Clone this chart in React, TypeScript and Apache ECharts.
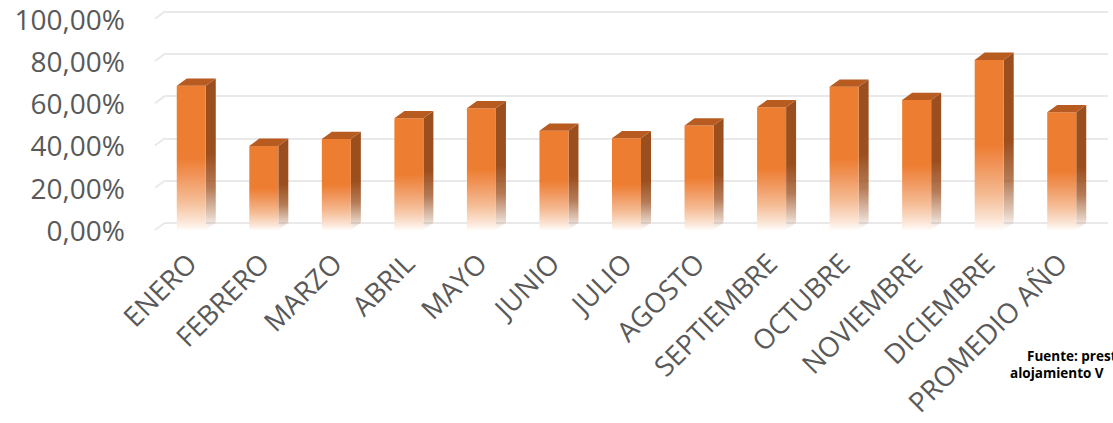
import React, { useEffect, useRef } from "react";
import * as echarts from "echarts";

const categories = [
  "ENERO",
  "FEBRERO",
  "MARZO",
  "ABRIL",
  "MAYO",
  "JUNIO",
  "JULIO",
  "AGOSTO",
  "SEPTIEMBRE",
  "OCTUBRE",
  "NOVIEMBRE",
  "DICIEMBRE",
  "PROMEDIO AÑO",
];
const occupancy = [68.3, 39.8, 43.1, 52.9, 57.6, 47.0, 43.4, 49.4, 58.1, 67.8, 61.5, 80.5, 55.7];
const yTicks = [0, 20, 40, 60, 80, 100];
const sourceLines = ["Fuente: prest", "alojamiento V"];

const DEPTH_X = 10;
const DEPTH_Y = -7.3;
const GRID_COLOR = "#e9e9e9";
const LABEL_COLOR = "#595959";
const FONT = "Open Sans";

export default function App() {
  const ref = useRef<HTMLDivElement>(null);

  useEffect(() => {
    if (!ref.current) return;
    const chart = echarts.init(ref.current, undefined, { renderer: "svg" });

    const frontGrad = new echarts.graphic.LinearGradient(0, 0, 0, 1, [
      { offset: 0, color: "#ED7D31" },
      { offset: 0.5, color: "#ED7D31" },
      { offset: 0.62, color: "#F09459" },
      { offset: 0.8, color: "#F5BD96" },
      { offset: 0.94, color: "#FBE5D6" },
      { offset: 1, color: "#FFFBF8" },
    ]);
    const sideGrad = new echarts.graphic.LinearGradient(0, 0, 0, 1, [
      { offset: 0, color: "#9C4F1E" },
      { offset: 0.5, color: "#9C4F1E" },
      { offset: 0.72, color: "rgba(156,79,30,0.75)" },
      { offset: 0.9, color: "rgba(156,79,30,0.3)" },
      { offset: 1, color: "rgba(156,79,30,0)" },
    ]);
    const topColor = "#B75B21";

    const option: any = {
      animation: false,
      backgroundColor: "#ffffff",
      grid: [
        { left: 155, right: 15, top: 18.7, bottom: 193 },
        { left: 165, right: 5, top: 11.7, bottom: 200.3 },
      ],
      xAxis: [
        {
          type: "category",
          gridIndex: 0,
          data: categories,
          axisLine: { show: false },
          axisTick: { show: false },
          axisLabel: {
            interval: 0,
            rotate: 45,
            margin: 28,
            color: LABEL_COLOR,
            fontFamily: FONT,
            fontSize: 27.5,
          },
        },
        {
          type: "category",
          gridIndex: 1,
          data: categories,
          show: false,
        },
      ],
      yAxis: [
        {
          type: "value",
          gridIndex: 0,
          min: 0,
          max: 100,
          interval: 20,
          axisLine: { show: false },
          axisTick: { show: false },
          splitLine: { show: false },
          axisLabel: {
            margin: 30,
            color: LABEL_COLOR,
            fontFamily: FONT,
            fontSize: 28,
            padding: [7, 0, 0, 0],
            formatter: (v: number) => v.toFixed(2).replace(".", ",") + "%",
          },
        },
        {
          type: "value",
          gridIndex: 1,
          min: 0,
          max: 100,
          interval: 20,
          axisLine: { show: false },
          axisTick: { show: false },
          axisLabel: { show: false },
          splitLine: { show: true, lineStyle: { color: GRID_COLOR, width: 2 } },
        },
      ],
      series: [
        {
          type: "custom",
          xAxisIndex: 0,
          yAxisIndex: 0,
          silent: true,
          data: yTicks.map((v) => [0, v]),
          renderItem: (params: any, api: any) => {
            const y = api.coord([0, api.value(1)])[1];
            const x = params.coordSys.x;
            return {
              type: "line",
              shape: { x1: x, y1: y, x2: x + DEPTH_X, y2: y + DEPTH_Y },
              style: { stroke: GRID_COLOR, lineWidth: 2 },
            };
          },
        },
        {
          type: "custom",
          xAxisIndex: 0,
          yAxisIndex: 0,
          data: occupancy.map((v, i) => [i, v]),
          encode: { x: 0, y: 1 },
          renderItem: (params: any, api: any) => {
            const i = api.value(0);
            const v = api.value(1);
            const top = api.coord([i, v]);
            const base = api.coord([i, 0]);
            const band = api.size([1, 0])[0];
            const w = band * 0.4;
            const x0 = top[0] - w / 2;
            const x1 = x0 + w;
            const ty = top[1];
            const by = base[1];
            return {
              type: "group",
              children: [
                {
                  type: "polygon",
                  shape: {
                    points: [
                      [x1, ty],
                      [x1 + DEPTH_X, ty + DEPTH_Y],
                      [x1 + DEPTH_X, by + DEPTH_Y],
                      [x1, by],
                    ],
                  },
                  style: { fill: sideGrad },
                },
                {
                  type: "rect",
                  shape: { x: x0, y: ty, width: w, height: by - ty },
                  style: { fill: frontGrad },
                },
                {
                  type: "polygon",
                  shape: {
                    points: [
                      [x0, ty],
                      [x0 + DEPTH_X, ty + DEPTH_Y],
                      [x1 + DEPTH_X, ty + DEPTH_Y],
                      [x1, ty],
                    ],
                  },
                  style: { fill: topColor },
                },
              ],
            };
          },
        },
      ],
      graphic: [
        {
          type: "text",
          left: 1027,
          top: 349,
          style: {
            text: sourceLines[0],
            fill: "#000000",
            font: `bold 13.5px "${FONT}"`,
          },
        },
        {
          type: "text",
          left: 1010,
          top: 365.5,
          style: {
            text: sourceLines[1],
            fill: "#000000",
            font: `bold 13.5px "${FONT}"`,
          },
        },
      ],
    };

    chart.setOption(option);
    return () => chart.dispose();
  }, []);

  return (
    <div
      ref={ref}
      style={{ position: "fixed", left: 0, top: 0, width: 1113, height: 423 }}
    />
  );
}
